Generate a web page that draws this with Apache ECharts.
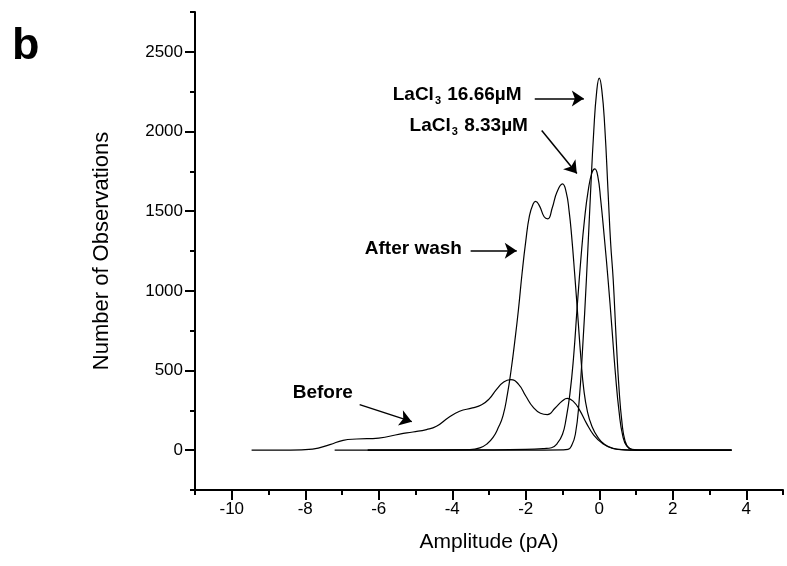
<!DOCTYPE html>
<html>
<head>
<meta charset="utf-8">
<title>Amplitude histogram</title>
<script src="https://cdn.jsdelivr.net/npm/echarts@6.0.0/dist/echarts.min.js"></script>
<style>
  html, body { margin: 0; padding: 0; background: #fff; }
  #chart { width: 787px; height: 566px; }
</style>
</head>
<body>
<div id="chart"></div>
<script>
// axis ticks
const xTicks = [-10, -8, -6, -4, -2, 0, 2, 4];
const xMinorTicks = [-11, -9, -7, -5, -3, -1, 1, 3, 5];
const yTicks = [0, 500, 1000, 1500, 2000, 2500];
const yMinorTicks = [-250, 250, 750, 1250, 1750, 2250, 2750];

// Before
const beforeX = [-9.46, -8.4, -7.8, -7.33, -6.97, -6.6, -6.0, -5.43, -5.07, -4.7, -4.43, -4.1, -3.8, -3.45, -3.2, -3.0, -2.8, -2.6, -2.41, -2.2, -2.0, -1.8, -1.6, -1.41, -1.2, -1.0, -0.87, -0.7, -0.53, -0.35, -0.15, 0.1, 0.35, 0.7, 1.0, 3.6];
const beforeY = [0, 0, 7, 35, 62, 70, 76, 101, 114, 129, 150, 205, 244, 265, 285, 320, 380, 428, 443, 415, 340, 270, 232, 223, 265, 310, 325, 305, 250, 170, 95, 40, 12, 2, 0, 0];

// After wash
const washX = [-7.2, -4.5, -3.52, -3.25, -3.05, -2.89, -2.75, -2.62, -2.5, -2.4, -2.3, -2.2, -2.1, -2.0, -1.9, -1.8, -1.73, -1.62, -1.5, -1.4, -1.28, -1.15, -1.0, -0.9, -0.82, -0.75, -0.67, -0.58, -0.5, -0.42, -0.32, -0.2, -0.05, 0.15, 0.4, 0.7, 1.0, 3.6];
const washY = [0, 0, 3, 14, 40, 80, 140, 215, 350, 500, 680, 880, 1110, 1310, 1470, 1545, 1562, 1530, 1465, 1452, 1520, 1620, 1671, 1620, 1500, 1340, 1110, 830, 580, 380, 240, 150, 85, 35, 10, 2, 0, 0];

// LaCl3 8.33 uM
const la833X = [-6.3, -3.0, -2.0, -1.5, -1.3, -1.15, -1.0, -0.9, -0.8, -0.7, -0.6, -0.5, -0.4, -0.3, -0.2, -0.12, -0.04, 0.04, 0.14, 0.24, 0.34, 0.44, 0.54, 0.64, 0.75, 0.9, 1.1, 3.6];
const la833Y = [0, 2, 5, 10, 15, 40, 100, 200, 350, 580, 900, 1200, 1450, 1630, 1740, 1765, 1720, 1570, 1330, 1070, 780, 480, 240, 90, 25, 5, 0, 0];

// LaCl3 16.66 uM
const la1666X = [-6.3, -2.0, -1.0, -0.85, -0.75, -0.65, -0.55, -0.45, -0.35, -0.24, -0.15, -0.07, 0.0, 0.07, 0.15, 0.24, 0.31, 0.38, 0.46, 0.54, 0.62, 0.7, 0.8, 0.95, 1.1, 3.6];
const la1666Y = [0, 0, 2, 5, 30, 100, 300, 650, 1070, 1600, 2000, 2250, 2335, 2260, 2030, 1620, 1300, 1070, 700, 380, 170, 60, 15, 2, 0, 0];

// annotations (data coordinates)
const noteText = [
  '{t|LaCl}{s|3}{t| 16.66µM}',
  '{t|LaCl}{s|3}{t| 8.33µM}',
  '{t|After wash}',
  '{t|Before}',
];
const notePos = [[-5.62, 2232], [-5.16, 2037], [-6.38, 1265], [-8.34, 361]];
const arrowFrom = [[-1.755, 2207], [-1.565, 2006], [-3.5, 1252], [-6.52, 286]];
const arrowTo = [[-0.42, 2207], [-0.61, 1736], [-2.245, 1252], [-5.1, 179]];

const FONT = "'Liberation Sans', Arial, sans-serif";

function pairs(xs, ys) {
  return xs.map((x, i) => [x, ys[i]]);
}

function curve(name, xs, ys) {
  return {
    name,
    type: 'line',
    smooth: 0.5,
    showSymbol: false,
    symbol: 'none',
    lineStyle: { color: '#000', width: 1.2 },
    data: pairs(xs, ys),
  };
}

const chart = echarts.init(document.getElementById('chart'), null, { renderer: 'canvas' });

const axisLineStyle = { show: true, onZero: false, lineStyle: { color: '#000', width: 2 } };

const option = {
  animation: false,
  backgroundColor: '#fff',
  textStyle: { fontFamily: FONT },
  grid: { left: 195, right: 4, top: 12, bottom: 76 },
  xAxis: [
    {
      type: 'value',
      min: -11,
      max: 5,
      axisLine: axisLineStyle,
      splitLine: { show: false },
      axisTick: { show: true, length: 10, lineStyle: { color: '#000', width: 2 }, customValues: xTicks },
      axisLabel: { color: '#000', fontSize: 17, fontFamily: FONT, margin: 11, customValues: xTicks },
      name: 'Amplitude (pA)',
      nameLocation: 'middle',
      nameGap: 42,
      nameTextStyle: { color: '#000', fontSize: 21, fontFamily: FONT },
    },
    {
      type: 'value',
      min: -11,
      max: 5,
      position: 'bottom',
      axisLine: { show: false, onZero: false },
      splitLine: { show: false },
      axisLabel: { show: false },
      axisTick: { show: true, length: 5, lineStyle: { color: '#000', width: 2 }, customValues: xMinorTicks },
    },
  ],
  yAxis: [
    {
      type: 'value',
      min: -250,
      max: 2750,
      axisLine: axisLineStyle,
      splitLine: { show: false },
      axisTick: { show: true, length: 10, lineStyle: { color: '#000', width: 2 }, customValues: yTicks },
      axisLabel: {
        color: '#000',
        fontSize: 17,
        fontFamily: FONT,
        margin: 12,
        customValues: yTicks,
        formatter: (v) => String(v),
      },
      name: 'Number of Observations',
      nameLocation: 'middle',
      nameGap: 82,
      nameTextStyle: { color: '#000', fontSize: 22, fontFamily: FONT },
    },
    {
      type: 'value',
      min: -250,
      max: 2750,
      position: 'left',
      axisLine: { show: false, onZero: false },
      splitLine: { show: false },
      axisLabel: { show: false },
      axisTick: { show: true, length: 5, lineStyle: { color: '#000', width: 2 }, customValues: yMinorTicks },
    },
  ],
  graphic: [
    {
      type: 'text',
      left: 12,
      top: 24,
      style: { text: 'b', font: 'bold 45px ' + FONT, fill: '#000' },
    },
  ],
  series: [
    curve('Before', beforeX, beforeY),
    curve('After wash', washX, washY),
    curve('LaCl3 8.33µM', la833X, la833Y),
    curve('LaCl3 16.66µM', la1666X, la1666Y),
    {
      name: 'notes',
      type: 'scatter',
      symbolSize: 0,
      silent: true,
      itemStyle: { opacity: 1, color: '#000' },
      label: {
        show: true,
        position: 'right',
        distance: 0,
        color: '#000',
        opacity: 1,
        formatter: (p) => noteText[p.dataIndex],
        rich: {
          t: { fontSize: 19, fontWeight: 'bold', color: '#000', fontFamily: FONT },
          s: { fontSize: 11, fontWeight: 'bold', color: '#000', fontFamily: FONT, padding: [12, 1, 0, 1] },
        },
      },
      data: notePos,
      markLine: {
        silent: true,
        symbol: ['none', 'arrow'],
        symbolSize: 12,
        label: { show: false },
        lineStyle: { color: '#000', width: 1.5, type: 'solid', opacity: 1 },
        data: arrowFrom.map((a, i) => [{ coord: a }, { coord: arrowTo[i] }]),
      },
    },
  ],
};

chart.setOption(option);
</script>
</body>
</html>
